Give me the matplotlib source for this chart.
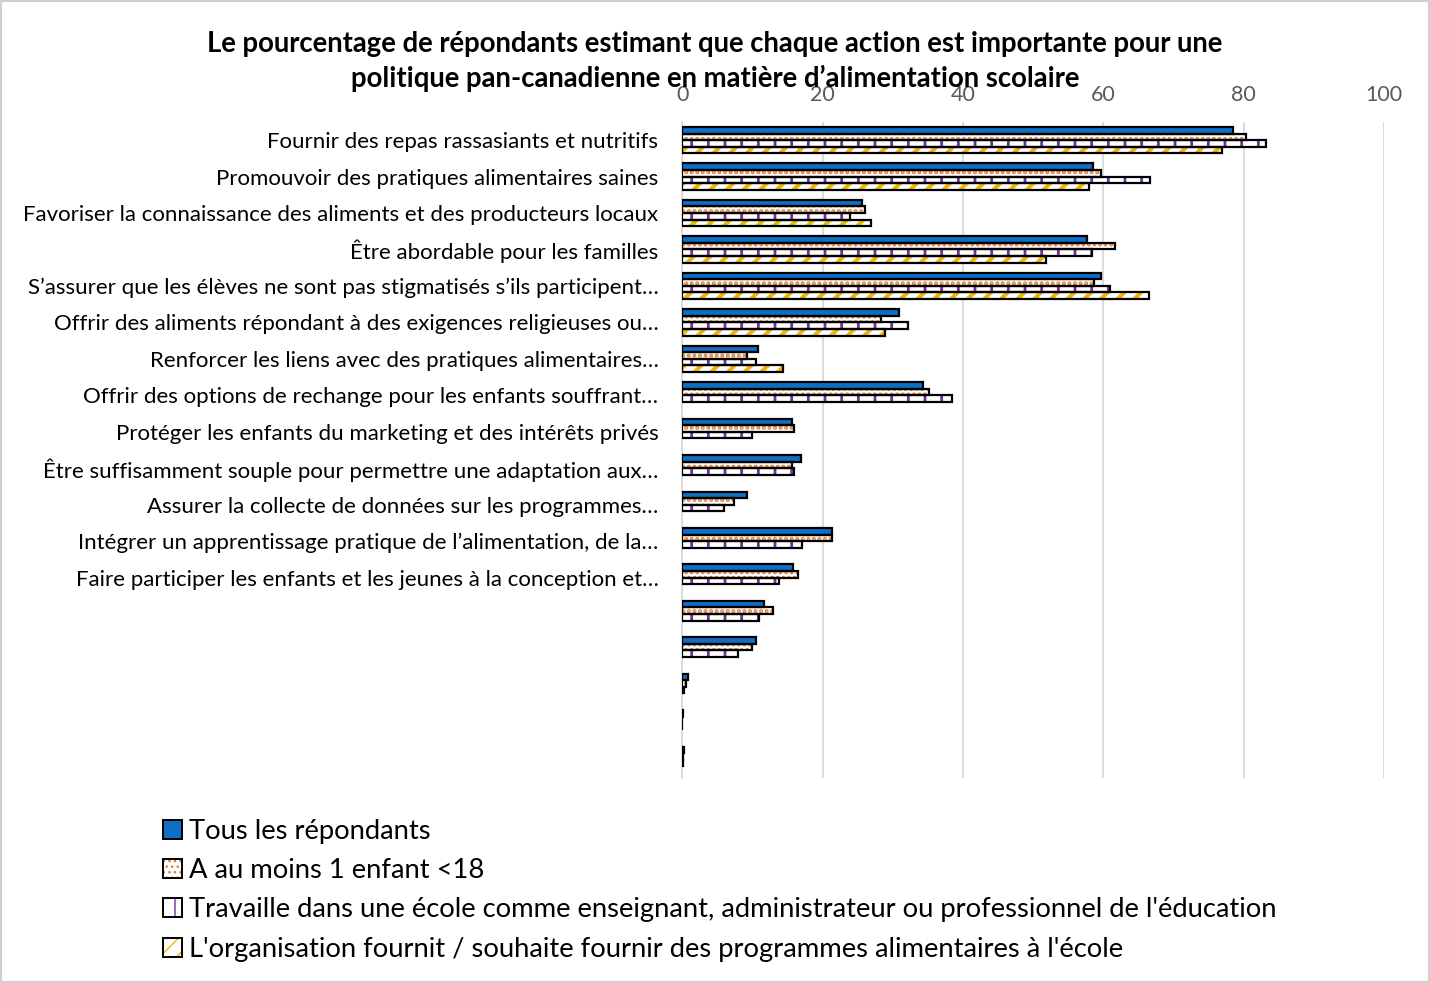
import numpy as np
import matplotlib
matplotlib.use("Agg")
import matplotlib.pyplot as plt
from matplotlib.patches import Rectangle, Patch
from matplotlib.legend_handler import HandlerTuple

plt.rcParams['font.family'] = ['Lato', 'DejaVu Sans']

# ----- Data -----
categories = [
    "Fournir des repas rassasiants et nutritifs",
    "Promouvoir des pratiques alimentaires saines",
    "Favoriser la connaissance des aliments et des producteurs locaux",
    "Être abordable pour les familles",
    "S’assurer que les élèves ne sont pas stigmatisés s’ils participent…",
    "Offrir des aliments répondant à des exigences religieuses ou…",
    "Renforcer les liens avec des pratiques alimentaires…",
    "Offrir des options de rechange pour les enfants souffrant…",
    "Protéger les enfants du marketing et des intérêts privés",
    "Être suffisamment souple pour permettre une adaptation aux…",
    "Assurer la collecte de données sur les programmes…",
    "Intégrer un apprentissage pratique de l’alimentation, de la…",
    "Faire participer les enfants et les jeunes à la conception et…",
    "", "", "", "", "",
]

tous = [78.5, 58.5, 25.6, 57.7, 59.6, 30.9, 10.8, 34.3, 15.7, 17.0, 9.3, 21.4, 15.8, 11.7, 10.5, 0.9, 0.1, 0.3]
enfant = [80.3, 59.7, 26.0, 61.6, 58.7, 28.3, 9.2, 35.1, 15.9, 15.6, 7.4, 21.3, 16.5, 13.0, 9.9, 0.6, 0.05, 0.1]
ecole = [83.1, 66.6, 23.9, 58.4, 60.9, 32.2, 10.5, 38.5, 10.0, 16.0, 5.9, 17.1, 13.8, 11.0, 8.0, 0.2, 0.05, 0.1]
organisation = [76.9, 57.9, 26.9, 51.8, 66.5, 28.9, 14.3, 0, 0, 0, 0, 0, 0, 0, 0, 0, 0, 0]

series_names = [
    "Tous les répondants",
    "A au moins 1 enfant <18",
    "Travaille dans une école comme enseignant, administrateur ou professionnel de l'éducation",
    "L'organisation fournit / souhaite fournir des programmes alimentaires à l'école",
]

# ----- Styles -----
styles = [
    dict(face="#0F6FC6", hatch=None, hcol=None, hlw=1.0),
    dict(face="white", hatch="...", hcol="#E07B2E", hlw=2.0),
    dict(face="white", hatch="|", hcol="#7030A0", hlw=2.0),
    dict(face="white", hatch="//", hcol="#F2B800", hlw=3.0),
]

fig = plt.figure(figsize=(14.3, 9.83), dpi=100)
ax = fig.add_axes([0.477, 0.2085, 0.491, 0.6675])

n = len(categories)
y = np.arange(n)
bh = 0.18
all_series = [tous, enfant, ecole, organisation]
for i, (vals, st) in enumerate(zip(all_series, styles)):
    pos = y - 0.27 + i * bh
    vals = np.array(vals, dtype=float)
    mask = vals > 0
    with plt.rc_context({'hatch.linewidth': st["hlw"]}):
        if st["hatch"]:
            ax.barh(pos[mask], vals[mask], height=bh, color=st["face"], hatch=st["hatch"],
                    edgecolor=st["hcol"], linewidth=0, zorder=3)
        else:
            ax.barh(pos[mask], vals[mask], height=bh, color=st["face"], linewidth=0, zorder=3)
    ax.barh(pos[mask], vals[mask], height=bh, fill=False, edgecolor="black",
            linewidth=1.6, zorder=4)

ax.set_ylim(n - 0.5, -0.5)
ax.set_xlim(0, 100)
ax.set_xticks(np.arange(0, 101, 20))
ax.xaxis.tick_top()
ax.tick_params(axis='x', length=0, labelsize=15.5, labelcolor="#595959", pad=12)
ax.set_yticks(y)
ax.set_yticklabels(categories, fontsize=16, color="black")
ax.tick_params(axis='y', length=0, pad=17)
ax.grid(axis='x', color="#D9D9D9", linewidth=1.3, zorder=0)
for s in ["top", "right", "bottom"]:
    ax.spines[s].set_visible(False)
ax.spines["left"].set_color("#D9D9D9")
ax.spines["left"].set_linewidth(1.3)

# title overlaps the tick labels, as in the original chart
fig.text(0.5, 0.937, "Le pourcentage de répondants estimant que chaque action est importante pour une\n"
         "politique pan-canadienne en matière d’alimentation scolaire",
         ha="center", va="center", fontsize=19.8, fontweight="bold", linespacing=1.35)

# ----- Legend -----
handles = []
for st in styles:
    with plt.rc_context({'hatch.linewidth': st["hlw"]}):
        if st["hatch"]:
            inner = Patch(facecolor=st["face"], edgecolor=st["hcol"], hatch=st["hatch"], linewidth=0)
        else:
            inner = Patch(facecolor=st["face"], linewidth=0)
    outer = Patch(fill=False, edgecolor="black", linewidth=1.4)
    handles.append((inner, outer))
leg = fig.legend(handles, series_names, loc="upper left", bbox_to_anchor=(0.106, 0.178),
                 frameon=False, fontsize=19.7, handlelength=0.7, handleheight=0.7,
                 handletextpad=0.25, labelspacing=0.52, borderaxespad=0,
                 handler_map={tuple: HandlerTuple(ndivide=1, pad=0)})

# figure frame
fig.patches.append(Rectangle((0, 0), 1, 1, transform=fig.transFigure, fill=False,
                             edgecolor="#D0D0D0", linewidth=3))

fig.savefig("out.png", dpi=100)
